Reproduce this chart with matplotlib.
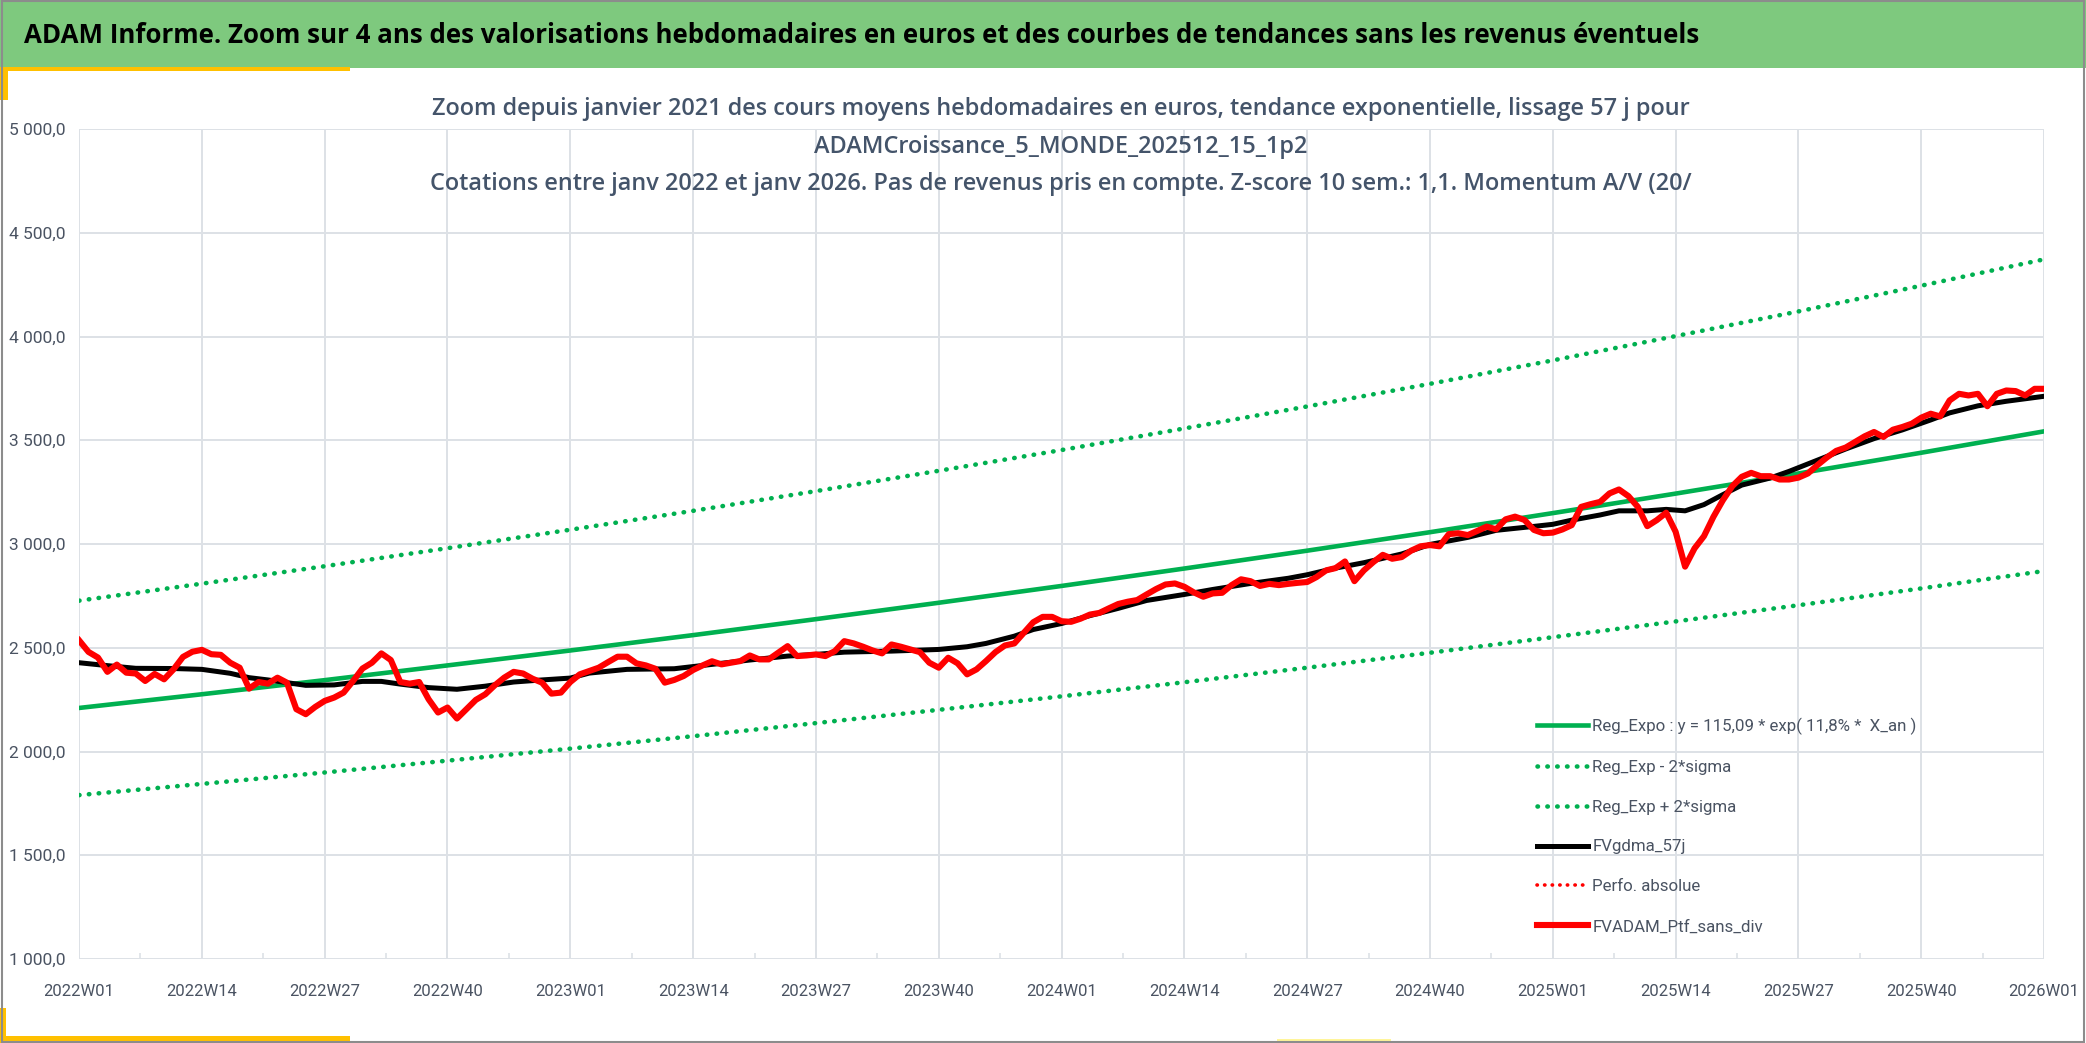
import matplotlib.pyplot as plt
from matplotlib.patches import Rectangle
import numpy as np

plt.rcParams['font.family'] = ['Roboto', 'DejaVu Sans']

# weekly axis, labels every 13 weeks
week_labels = ["2022W01", "2022W14", "2022W27", "2022W40",
               "2023W01", "2023W14", "2023W27", "2023W40",
               "2024W01", "2024W14", "2024W27", "2024W40",
               "2025W01", "2025W14", "2025W27", "2025W40", "2026W01"]
tick_weeks = np.arange(0, 13 * len(week_labels), 13)

# trend lines read at each labelled week
reg_expo = [2210, 2276, 2344, 2415, 2487, 2561, 2638, 2717, 2798,
            2882, 2968, 3057, 3149, 3243, 3340, 3440, 3543]
reg_minus = [1790, 1844, 1899, 1956, 2014, 2074, 2137, 2201, 2266,
             2334, 2404, 2476, 2551, 2627, 2705, 2786, 2870]
reg_plus = [2727, 2809, 2893, 2980, 3069, 3160, 3255, 3353, 3453,
            3557, 3663, 3772, 3885, 4002, 4121, 4245, 4372]

# smoothed 57 days
gdma_weeks = [0, 3, 6, 10, 13, 16, 18, 20, 24, 27, 30, 32, 34, 37, 40, 43,
              46, 49, 52, 54, 58, 63, 67, 71, 75, 78, 81, 86, 91, 94, 96, 99,
              101, 104, 107, 110, 113, 117, 120, 124, 128, 130, 133, 136, 140,
              143, 147, 150, 154, 156, 158, 161, 163, 166, 168, 170, 172, 174,
              176, 179, 181, 184, 187, 190, 193, 196, 198, 201, 204, 208]
gdma_vals = [2428, 2414, 2401, 2400, 2396, 2377, 2356, 2345, 2319, 2321,
             2338, 2338, 2325, 2308, 2300, 2315, 2335, 2345, 2354, 2378,
             2396, 2399, 2420, 2441, 2460, 2468, 2479, 2484, 2492, 2505,
             2521, 2556, 2588, 2617, 2655, 2690, 2728, 2757, 2781, 2810,
             2835, 2852, 2884, 2910, 2952, 2998, 3032, 3066, 3085, 3095,
             3115, 3140, 3160, 3160, 3167, 3160, 3190, 3238, 3284, 3318,
             3350, 3404, 3458, 3508, 3550, 3598, 3632, 3666, 3688, 3712]

# weekly portfolio value, no dividends
fv_ptf = [2536, 2480, 2453, 2384, 2419, 2380, 2376, 2340, 2374, 2348,
          2396, 2456, 2481, 2490, 2469, 2466, 2428, 2404, 2303, 2335,
          2327, 2356, 2332, 2204, 2180, 2215, 2244, 2260, 2284, 2340,
          2400, 2428, 2473, 2441, 2335, 2327, 2335, 2252, 2188, 2212,
          2159, 2204, 2249, 2276, 2319, 2356, 2384, 2376, 2351, 2332,
          2279, 2284, 2335, 2372, 2388, 2404, 2431, 2457, 2457, 2425,
          2415, 2399, 2332, 2345, 2364, 2393, 2415, 2435, 2420, 2428,
          2436, 2463, 2444, 2444, 2476, 2508, 2460, 2463, 2468, 2460,
          2484, 2532, 2521, 2505, 2487, 2473, 2516, 2505, 2492, 2479,
          2428, 2404, 2452, 2425, 2372, 2396, 2436, 2479, 2511, 2521,
          2572, 2623, 2649, 2649, 2628, 2625, 2640, 2660, 2668, 2690,
          2711, 2722, 2730, 2757, 2783, 2805, 2810, 2794, 2767, 2746,
          2762, 2765, 2802, 2830, 2821, 2798, 2808, 2802, 2808, 2813,
          2817, 2841, 2873, 2884, 2916, 2821, 2873, 2913, 2948, 2929,
          2937, 2968, 2989, 2995, 2989, 3048, 3052, 3043, 3063, 3084,
          3071, 3119, 3132, 3116, 3068, 3052, 3055, 3070, 3091, 3179,
          3192, 3203, 3244, 3263, 3231, 3179, 3086, 3115, 3151, 3059,
          2891, 2979, 3038, 3131, 3211, 3279, 3324, 3343, 3327, 3327,
          3311, 3311, 3320, 3340, 3380, 3417, 3449, 3465, 3492, 3519,
          3540, 3516, 3551, 3564, 3580, 3609, 3628, 3615, 3692, 3724,
          3716, 3724, 3664, 3724, 3740, 3737, 3716, 3748, 3748]
weeks = np.arange(len(fv_ptf))

y_ticks = np.arange(1000, 5001, 500)

GREEN = '#00B050'
RED = '#FF0000'
GRID = '#DDE1E6'
TXT = '#4A5362'

fig = plt.figure(figsize=(20.86, 10.43), dpi=100)
fig.patch.set_facecolor('white')

# banner + decorations
fig.patches.append(Rectangle((0, 0.935), 1, 0.065, transform=fig.transFigure,
                             facecolor='#7EC97E', edgecolor='none', zorder=0))
fig.patches.append(Rectangle((0, 0.932), 0.168, 0.004, transform=fig.transFigure,
                             facecolor='#FFC000', edgecolor='none'))
fig.patches.append(Rectangle((0, 0.904), 0.004, 0.031, transform=fig.transFigure,
                             facecolor='#FFC000', edgecolor='none'))
fig.patches.append(Rectangle((0, 0.0), 0.168, 0.007, transform=fig.transFigure,
                             facecolor='#FFC000', edgecolor='none'))
fig.patches.append(Rectangle((0, 0.0), 0.003, 0.034, transform=fig.transFigure,
                             facecolor='#FFC000', edgecolor='none'))
fig.patches.append(Rectangle((0.612, 0.0), 0.055, 0.004, transform=fig.transFigure,
                             facecolor='#FFF59A', edgecolor='none'))
fig.patches.append(Rectangle((0.001, 0.001), 0.998, 0.998, transform=fig.transFigure,
                             facecolor='none', edgecolor='#8C8C8C', lw=1.5))

fig.text(0.0115, 0.966, "ADAM Informe. Zoom sur 4 ans des valorisations hebdomadaires "
         "en euros et des courbes de tendances sans les revenus éventuels",
         family=['Open Sans', 'DejaVu Sans'], weight='bold', fontsize=18.6,
         color='black', ha='left', va='center')

ax = fig.add_axes([0.0379, 0.0805, 0.942, 0.7958])

dots = (0, (0.1, 2.05))
ax.plot(tick_weeks, reg_expo, color=GREEN, lw=3.3, zorder=3,
        label="Reg_Expo : y = 115,09 * exp( 11,8% *  X_an )")
ax.plot(tick_weeks, reg_minus, color=GREEN, lw=3.3, zorder=3,
        linestyle=dots, dash_capstyle='round', label="Reg_Exp - 2*sigma")
ax.plot(tick_weeks, reg_plus, color=GREEN, lw=3.3, zorder=3,
        linestyle=dots, dash_capstyle='round', label="Reg_Exp + 2*sigma")
ax.plot(gdma_weeks, gdma_vals, color='black', lw=3.6, zorder=4,
        solid_joinstyle='round', label="FVgdma_57j")
ax.plot([], [], color=RED, lw=2.6, linestyle=(0, (0.1, 2.0)),
        dash_capstyle='round', label="Perfo. absolue")
ax.plot(weeks, fv_ptf, color=RED, lw=4.4, zorder=5,
        solid_joinstyle='round', label="FVADAM_Ptf_sans_div")

ax.set_xlim(0, tick_weeks[-1])
ax.set_ylim(y_ticks[0], y_ticks[-1])
ax.set_xticks(tick_weeks)
ax.set_xticklabels(week_labels)
ax.set_xticks(tick_weeks[:-1] + 6.5, minor=True)
ax.set_yticks(y_ticks)
ax.set_yticklabels([f"{v:,.1f}".replace(",", " ").replace(".", ",") for v in y_ticks])

ax.grid(True, which='major', color=GRID, lw=1.4)
ax.set_axisbelow(True)
for s in ax.spines.values():
    s.set_visible(False)
ax.tick_params(axis='x', which='major', length=0, pad=18, labelsize=12, labelcolor=TXT)
ax.tick_params(axis='x', which='minor', direction='in', length=4, width=1.2, color=GRID)
ax.tick_params(axis='y', length=0, pad=10, labelsize=12.5, labelcolor=TXT)

sub = ["Zoom depuis janvier 2021 des cours moyens hebdomadaires en euros, "
       "tendance exponentielle, lissage 57 j pour",
       "ADAMCroissance_5_MONDE_202512_15_1p2",
       "Cotations entre janv 2022 et janv 2026. Pas de revenus pris en compte. "
       "Z-score 10 sem.: 1,1. Momentum A/V (20/"]
for i, line in enumerate(sub):
    fig.text(0.5085, 0.8955 - i * 0.036, line, family=['Open Sans', 'DejaVu Sans'],
             weight='semibold', fontsize=16.9, color='#44546A',
             ha='center', va='center', zorder=6)

ax.legend(loc='upper left', bbox_to_anchor=(0.742, 0.291), frameon=False,
          borderpad=0, borderaxespad=0, handlelength=3.0, handletextpad=0.25,
          labelspacing=1.47, fontsize=12.2, labelcolor=TXT)

fig.savefig('out.png', dpi=100, facecolor='white')
